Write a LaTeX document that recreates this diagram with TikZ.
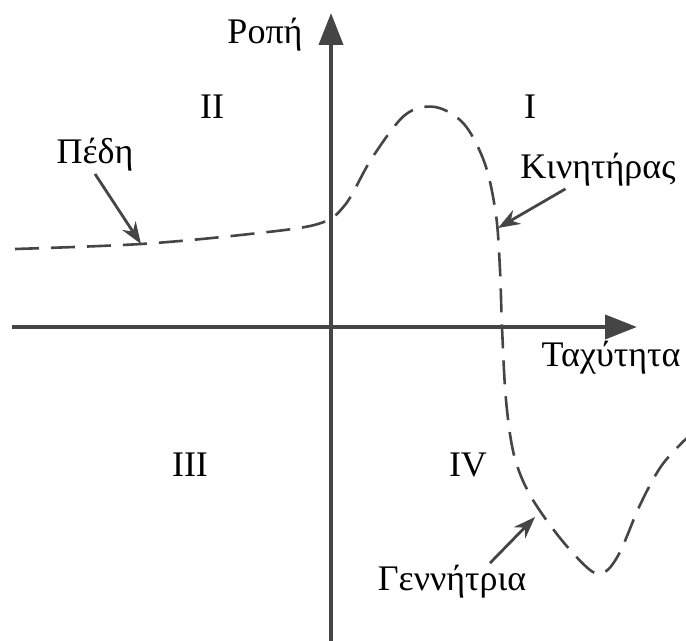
\documentclass[tikz,border=0pt]{standalone}
\usepackage{fontspec}
\setmainfont{Liberation Serif}
\usepackage{xcolor}
\usetikzlibrary{arrows.meta}
\usetikzlibrary{positioning}

\definecolor{axisgray}{HTML}{454545}

\begin{document}
\begin{tikzpicture}[
  x=0.5pt,y=-0.5pt,
  every node/.style={font=\fontsize{18}{21}\selectfont,inner sep=1pt},
  axis/.style={draw=axisgray,line width=2pt,-{Triangle[length=16pt,width=12pt]}},
  curve/.style={draw=axisgray,line width=1.3pt,dash pattern=on 12pt off 6pt},
  pointer/.style={draw=axisgray,line width=1.4pt,-{Stealth[length=11pt,width=8pt]}}]
\useasboundingbox (0,0) rectangle (686,641);
% axes
\draw[axis] (331,641) -- (331,13);
\draw[axis] (12,327) -- (637,327);
\node (torque) at (265,35) {Ροπή};
\node (speed) at (611,358) {Ταχύτητα};
% quadrants
\node (q1) at (530,107) {I};
\node (q2) at (212,107) {II};
\node (q3) at (190,465) {III};
\node (q4) at (468,465) {IV};
% characteristic
\draw[curve] plot[smooth,tension=0.55] coordinates {
  (15,249) (141,244) (250,234) (318,224) (345,205) (372,158) (405,115)
  (435,107) (464,124) (485,164) (496,215) (500,270) (502,327) (506,400)
  (514,455) (530,495) (560,538) (590,570) (605,572) (620,552) (640,505)
  (662,465) (690,435)};
\coordinate (brk) at (141,244);
\coordinate (mot) at (498,228);
\coordinate (gnr) at (535,517);
% labels
\node (brake) at (95,155) {Πέδη};
\node (motor) at (598,170) {Κινητήρας};
\node (gener) at (452,582) {Γεννήτρια};
\draw[pointer] (brake.south) -- (brk);
\draw[pointer] (motor) -- (mot);
\draw[pointer] ([xshift=19pt]gener.north) -- (gnr);
\end{tikzpicture}
\end{document}
